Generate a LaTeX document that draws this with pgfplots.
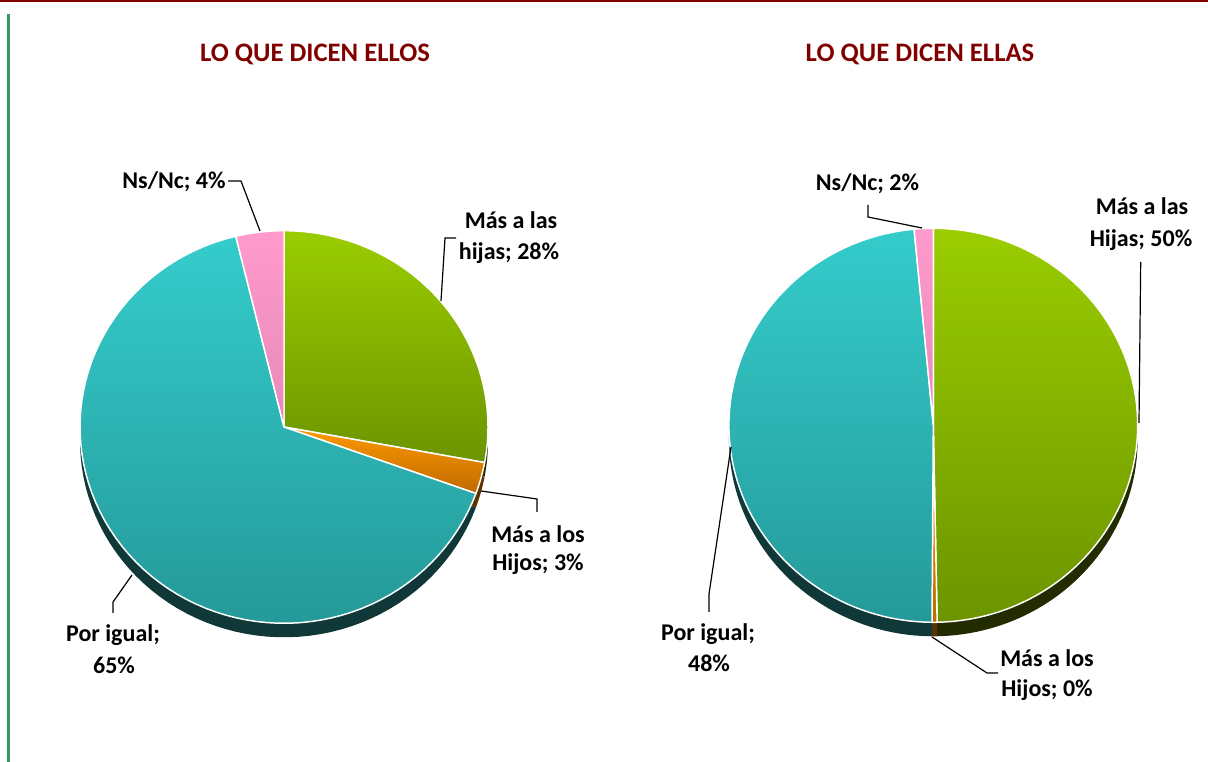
\documentclass[border=0pt]{standalone}
\usepackage{pgfplots}
\pgfplotsset{compat=1.18}
\usepackage{fontspec}
\setmainfont{Carlito}
\definecolor{titlered}{HTML}{800000}
\definecolor{gTop}{HTML}{9ACD00}
\definecolor{gBot}{HTML}{6C9400}
\definecolor{tTop}{HTML}{35CCCC}
\definecolor{tBot}{HTML}{259999}
\definecolor{pTop}{HTML}{FF9ACC}
\definecolor{pBot}{HTML}{E888BA}
\definecolor{oTop}{HTML}{FF9900}
\definecolor{oBot}{HTML}{C06A00}
\definecolor{gSide}{HTML}{232B00}
\definecolor{tSide}{HTML}{103838}
\definecolor{oSide}{HTML}{5C3300}
\definecolor{pSide}{HTML}{803355}
\definecolor{frameGreen}{HTML}{339966}

% data (percent) : Mas a las hijas, Mas a los hijos, Por igual, Ns/Nc
\def\LGreen{27.9}\def\LOrange{2.6}\def\LTeal{65.7}\def\LPink{3.8}
\def\RGreen{49.7}\def\ROrange{0.4}\def\RTeal{48.4}\def\RPink{1.5}

\pgfmathsetmacro\La{90}
\pgfmathsetmacro\Lb{\La-3.6*\LGreen}
\pgfmathsetmacro\Lc{\Lb-3.6*\LOrange}
\pgfmathsetmacro\Ld{\Lc-3.6*\LTeal}
\pgfmathsetmacro\Le{\Ld-3.6*\LPink}
\pgfmathsetmacro\Ra{90}
\pgfmathsetmacro\Rb{\Ra-3.6*\RGreen}
\pgfmathsetmacro\Rc{\Rb-3.6*\ROrange}
\pgfmathsetmacro\Rd{\Rc-3.6*\RTeal}
\pgfmathsetmacro\Re{\Rd-3.6*\RPink}

% cx, cy, rx, ry, from, to, options
\newcommand\slice[7]{%
  \addplot[#7, domain=#5:#6, samples=80, mark=none]
    ({#1+#3*cos(x)},{#2-#4*sin(x)}) -- (axis cs:#1,#2) -- cycle;}

\tikzset{
  lab/.style={font=\fontsize{18}{22}\selectfont\bfseries, anchor=base, inner sep=0pt},
  ttl/.style={font=\fontsize{20}{24}\selectfont\bfseries, anchor=base, inner sep=0pt, text=titlered},
  face/.style={draw=white, line width=1.1pt, line join=round},
  lead/.style={draw=black, line width=0.9pt},
}

\begin{document}
\begin{tikzpicture}
\begin{axis}[
  at={(0,0)}, anchor=south west,
  width=906pt, height=571.5pt, scale only axis,
  xmin=0, xmax=1208, ymin=0, ymax=762, y dir=reverse,
  hide axis, clip=false,
]
% frame lines
\fill[titlered] (axis cs:0,0) rectangle (axis cs:1208,2.3);
\fill[frameGreen] (axis cs:7,14) rectangle (axis cs:10,762);

% titles
\node[ttl] at (axis cs:315,62) {LO QUE DICEN ELLOS};
\node[ttl] at (axis cs:920,62) {LO QUE DICEN ELLAS};

% ---- left pie: sides
\slice{284}{441}{204}{196.3}{\Lb}{\La}{draw=none, fill=gSide}
\slice{284}{441}{204}{196.3}{\Lc}{\Lb}{draw=none, fill=oSide}
\slice{284}{441}{204}{196.3}{\Ld}{\Lc}{draw=none, fill=tSide}
\slice{284}{441}{204}{196.3}{\Le}{\Ld}{draw=none, fill=pSide}
% ---- left pie: faces
\slice{284}{427}{204}{196.3}{\Lb}{\La}{face, top color=gTop, bottom color=gBot}
\slice{284}{427}{204}{196.3}{\Lc}{\Lb}{face, top color=oTop, bottom color=oBot}
\slice{284}{427}{204}{196.3}{\Ld}{\Lc}{face, top color=tTop, bottom color=tBot}
\slice{284}{427}{204}{196.3}{\Le}{\Ld}{face, top color=pTop, bottom color=pBot}

% ---- right pie: sides
\slice{933.3}{439.3}{204.4}{197}{\Rb}{\Ra}{draw=none, fill=gSide}
\slice{933.3}{439.3}{204.4}{197}{\Rc}{\Rb}{draw=none, fill=oSide}
\slice{933.3}{439.3}{204.4}{197}{\Rd}{\Rc}{draw=none, fill=tSide}
\slice{933.3}{439.3}{204.4}{197}{\Re}{\Rd}{draw=none, fill=pSide}
% ---- right pie: faces
\slice{933.3}{425.3}{204.4}{197}{\Rb}{\Ra}{face, top color=gTop, bottom color=gBot}
\slice{933.3}{425.3}{204.4}{197}{\Rc}{\Rb}{face, top color=oTop, bottom color=oBot}
\slice{933.3}{425.3}{204.4}{197}{\Rd}{\Rc}{face, top color=tTop, bottom color=tBot}
\slice{933.3}{425.3}{204.4}{197}{\Re}{\Rd}{face, top color=pTop, bottom color=pBot}

% ---- left labels
\draw[lead] (axis cs:228,181) -- (axis cs:241,181) -- (axis cs:260,231);
\node[lab] at (axis cs:174,189) {Ns/Nc; 4\%};
\draw[lead] (axis cs:456,238) -- (axis cs:445,238) -- (axis cs:441,301);
\node[lab] at (axis cs:511,229) {Más a las};
\node[lab] at (axis cs:509,260) {hijas; 28\%};
\draw[lead] (axis cs:481,491) -- (axis cs:537,499) -- (axis cs:537,512);
\node[lab] at (axis cs:538,543) {Más a los};
\node[lab] at (axis cs:538,571) {Hijos; 3\%};
\draw[lead] (axis cs:113,613) -- (axis cs:113,602) -- (axis cs:132,575);
\node[lab] at (axis cs:113,642) {Por igual;};
\node[lab] at (axis cs:114,674) {65\%};

% ---- right labels
\draw[lead] (axis cs:868,205) -- (axis cs:868,217) -- (axis cs:922,228);
\node[lab] at (axis cs:867.5,191) {Ns/Nc; 2\%};
\draw[lead] (axis cs:1140.7,262) -- (axis cs:1139,423);
\node[lab] at (axis cs:1142,215) {Más a las};
\node[lab] at (axis cs:1141,247) {Hijas; 50\%};
\draw[lead] (axis cs:709,612) -- (axis cs:709,594) -- (axis cs:731,447);
\node[lab] at (axis cs:708,641) {Por igual;};
\node[lab] at (axis cs:709,672) {48\%};
\draw[lead] (axis cs:932,637) -- (axis cs:987,673) -- (axis cs:998,673);
\node[lab] at (axis cs:1047,667) {Más a los};
\node[lab] at (axis cs:1047,697) {Hijos; 0\%};
\end{axis}
\pgfresetboundingbox
\useasboundingbox (0,0) rectangle (906pt,571.5pt);
\end{tikzpicture}
\end{document}
